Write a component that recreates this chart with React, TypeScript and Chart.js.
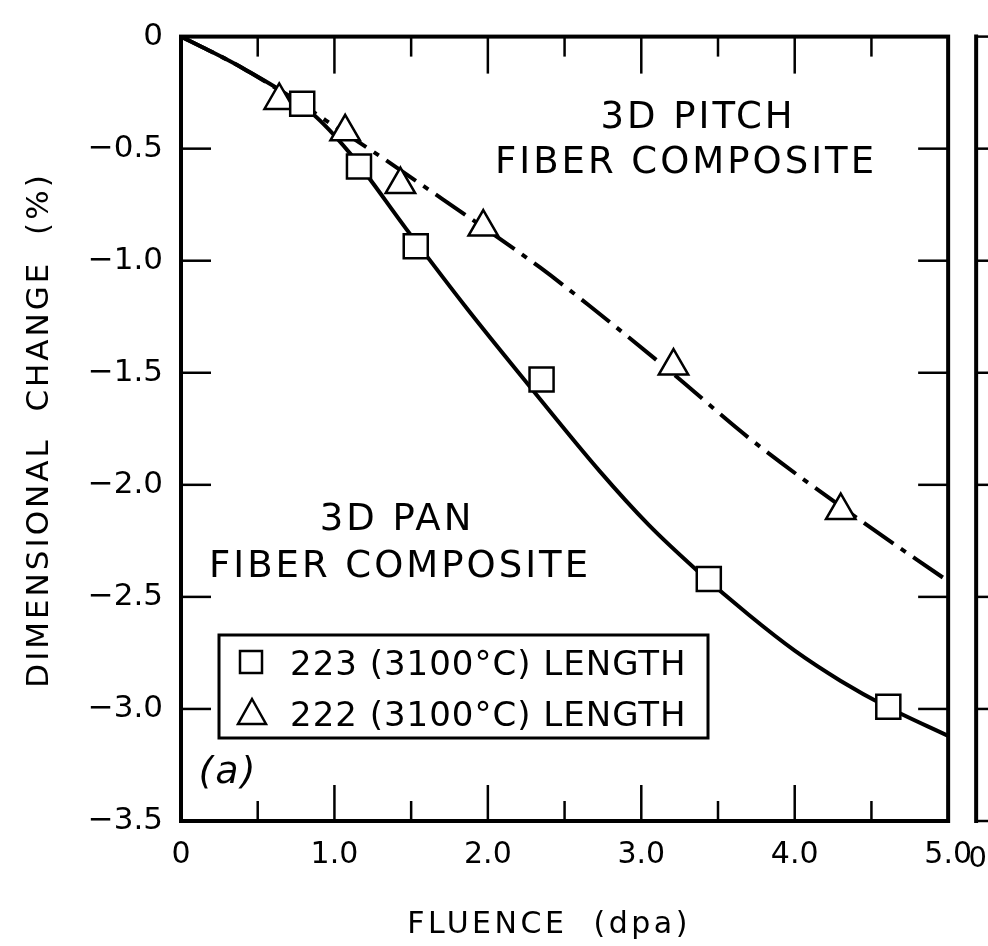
import React, { useEffect, useRef } from "react";
import { Chart, registerables } from "chart.js";

Chart.register(...registerables);

// ---- measured points ----
const panMeasX = [0.79, 1.16, 1.53, 2.35, 3.44, 4.61];
const panMeasY = [-0.3, -0.58, -0.935, -1.53, -2.42, -2.99];
const pitchMeasX = [0.64, 1.07, 1.43, 1.97, 3.21, 4.3];
const pitchMeasY = [-0.285, -0.425, -0.66, -0.85, -1.47, -2.115];

// ---- fitted curves ----
const panCurveX = [0, 0.4, 0.85, 1.1, 1.47, 1.86, 2.26, 2.73, 3.05, 3.36, 3.7, 4.0, 4.3, 4.6, 5.0];
const panCurveY = [0, -0.14, -0.34, -0.52, -0.86, -1.21, -1.55, -1.94, -2.18, -2.38, -2.58, -2.74, -2.875, -2.99, -3.12];
const pitchCurveX = [0, 0.4, 0.87, 0.99, 1.3, 1.63, 2.0, 2.34, 2.66, 3.2, 3.7, 4.4, 5.0];
const pitchCurveY = [0, -0.14, -0.34, -0.395, -0.535, -0.69, -0.865, -1.03, -1.2, -1.5, -1.79, -2.145, -2.43];

// ---- ticks & text ----
const xTickValues = [0, 1, 2, 3, 4, 5];
const xTickLabels = ["0", "1.0", "2.0", "3.0", "4.0", "5.0"];
const xMinorValues = [0.5, 1.5, 2.5, 3.5, 4.5];
const yTickValues = [0, -0.5, -1, -1.5, -2, -2.5, -3, -3.5];
const yTickLabels = ["0", "\u22120.5", "\u22121.0", "\u22121.5", "\u22122.0", "\u22122.5", "\u22123.0", "\u22123.5"];
const legendLabels = ["223 (3100\u00B0C) LENGTH", "222 (3100\u00B0C) LENGTH"];
const xTitle = "FLUENCE  (dpa)";
const yTitle = "DIMENSIONAL  CHANGE  (%)";
const pitchLabel = ["3D PITCH", "FIBER COMPOSITE"];
const panLabel = ["3D PAN", "FIBER COMPOSITE"];
const panelTag = "(a)";
const nextPanelZero = "0";

const FONT = "'DejaVu Sans', 'Liberation Sans', sans-serif";

const zip = (xs: number[], ys: number[]) => xs.map((x, i) => ({ x, y: ys[i] }));

function text(ctx: any, s: string, x: number, y: number, size: number, ls: number, align: CanvasTextAlign = "center", italic = false) {
  ctx.save();
  ctx.font = `${italic ? "italic " : ""}${size}px ${FONT}`;
  try { ctx.letterSpacing = `${ls}px`; } catch (e) {}
  ctx.fillStyle = "#000";
  ctx.textAlign = align;
  ctx.textBaseline = "alphabetic";
  ctx.fillText(s, x, y);
  ctx.restore();
}

const decorPlugin = {
  id: "decor",
  afterDraw(chart: any) {
    const { ctx, chartArea: a, scales } = chart;
    const xs = scales.x;
    const ys = scales.y;
    ctx.save();
    ctx.strokeStyle = "#000";
    ctx.lineCap = "butt";

    // frame
    ctx.lineWidth = 4;
    ctx.strokeRect(a.left, a.top, a.right - a.left, a.bottom - a.top);

    ctx.lineWidth = 2.5;
    const vline = (x: number, y1: number, y2: number) => {
      ctx.beginPath(); ctx.moveTo(x, y1); ctx.lineTo(x, y2); ctx.stroke();
    };
    const hline = (y: number, x1: number, x2: number) => {
      ctx.beginPath(); ctx.moveTo(x1, y); ctx.lineTo(x2, y); ctx.stroke();
    };
    xTickValues.forEach((v) => {
      const px = xs.getPixelForValue(v);
      vline(px, a.bottom, a.bottom - 36);
      vline(px, a.top, a.top + 37);
    });
    xMinorValues.forEach((v) => {
      const px = xs.getPixelForValue(v);
      vline(px, a.bottom, a.bottom - 20);
      vline(px, a.top, a.top + 20);
    });
    yTickValues.forEach((v) => {
      const py = ys.getPixelForValue(v);
      hline(py, a.left, a.left + 30);
      hline(py, a.right, a.right - 30);
    });

    // neighbouring panel edge
    const nx = a.right + 28;
    ctx.lineWidth = 4;
    vline(nx, a.top - 2, a.bottom + 2);
    ctx.lineWidth = 2.5;
    yTickValues.forEach((v) => {
      const py = ys.getPixelForValue(v);
      hline(py, nx, nx + 14);
    });
    text(ctx, nextPanelZero, 987, a.bottom + 46, 29, 0, "right");

    // axis titles
    text(ctx, xTitle, 549, 933, 30, 3.5);
    ctx.save();
    ctx.translate(48, 430);
    ctx.rotate(-Math.PI / 2);
    text(ctx, yTitle, 0, 0, 31, 3);
    ctx.restore();

    // annotations
    text(ctx, pitchLabel[0], 698, 128, 37, 3);
    text(ctx, pitchLabel[1], 686, 173, 37, 3);
    text(ctx, panLabel[0], 397, 530, 37, 3);
    text(ctx, panLabel[1], 400, 577, 37, 3);
    text(ctx, panelTag, 228, 783, 38, 2, "center", true);

    // legend box
    const bx = 219, by = 635, bw = 489, bh = 103;
    ctx.fillStyle = "#fff";
    ctx.fillRect(bx, by, bw, bh);
    ctx.lineWidth = 3;
    ctx.strokeRect(bx, by, bw, bh);
    const rows = [662, 713];
    chart.data.datasets.slice(0, 2).forEach((ds: any, i: number) => {
      const cy = rows[i];
      ctx.lineWidth = 2.5;
      ctx.strokeStyle = "#000";
      if (ds.pointStyle === "rect") {
        ctx.strokeRect(240, cy - 11, 22, 22);
      } else {
        ctx.beginPath();
        ctx.moveTo(252, cy - 14);
        ctx.lineTo(266, cy + 11);
        ctx.lineTo(238, cy + 11);
        ctx.closePath();
        ctx.stroke();
      }
      text(ctx, ds.label, 290, cy + 13, 34, 1, "left");
    });
    ctx.restore();
  },
};

export default function App() {
  const ref = useRef<HTMLCanvasElement | null>(null);
  useEffect(() => {
    if (!ref.current) return;
    const chart = new Chart(ref.current, {
      type: "scatter",
      data: {
        datasets: [
          {
            label: legendLabels[0],
            data: zip(panMeasX, panMeasY),
            pointStyle: "rect",
            pointRadius: 17,
            pointBorderWidth: 2.5,
            pointBackgroundColor: "#fff",
            pointBorderColor: "#000",
            showLine: false,
            order: 0,
          },
          {
            label: legendLabels[1],
            data: zip(pitchMeasX, pitchMeasY),
            pointStyle: "triangle",
            pointRadius: 17,
            pointBorderWidth: 2.5,
            pointBackgroundColor: "#fff",
            pointBorderColor: "#000",
            showLine: false,
            order: 0,
          },
          {
            label: "pan fit",
            data: zip(panCurveX, panCurveY),
            showLine: true,
            pointRadius: 0,
            borderColor: "#000",
            borderWidth: 4,
            cubicInterpolationMode: "monotone",
            order: 1,
          },
          {
            label: "pitch fit",
            data: zip(pitchCurveX, pitchCurveY),
            showLine: true,
            pointRadius: 0,
            borderColor: "#000",
            borderWidth: 4,
            borderDash: [36, 9, 6, 9],
            cubicInterpolationMode: "monotone",
            order: 1,
          },
        ],
      },
      options: {
        animation: false,
        responsive: false,
        devicePixelRatio: 1,
        layout: { padding: { left: 0, top: 24, right: 37, bottom: 0 } },
        plugins: { legend: { display: false }, tooltip: { enabled: false } },
        scales: {
          x: {
            type: "linear",
            min: 0,
            max: 5,
            grid: { display: false, drawTicks: false },
            border: { display: false },
            afterFit: (s: any) => { s.height = 125; },
            afterBuildTicks: (s: any) => { s.ticks = xTickValues.map((v) => ({ value: v })); },
            ticks: {
              padding: 16,
              color: "#000",
              font: { family: FONT, size: 30 },
              maxRotation: 0,
              autoSkip: false,
              callback: (_v: any, i: number) => xTickLabels[i],
            },
          },
          y: {
            type: "linear",
            min: -3.5,
            max: 0,
            grid: { display: false, drawTicks: false },
            border: { display: false },
            afterFit: (s: any) => { s.width = 181; },
            afterBuildTicks: (s: any) => { s.ticks = yTickValues.slice().reverse().map((v) => ({ value: v })); },
            ticks: {
              padding: 18,
              color: "#000",
              font: { family: FONT, size: 31 },
              autoSkip: false,
              callback: (v: any) => yTickLabels[yTickValues.indexOf(Number(v))],
            },
          },
        },
      },
      plugins: [decorPlugin],
    } as any);
    return () => chart.destroy();
  }, []);
  return (
    <div style={{ position: "absolute", left: 0, top: 0, width: 988, height: 946, background: "#fff" }}>
      <canvas ref={ref} width={988} height={946} style={{ display: "block" }} />
    </div>
  );
}
